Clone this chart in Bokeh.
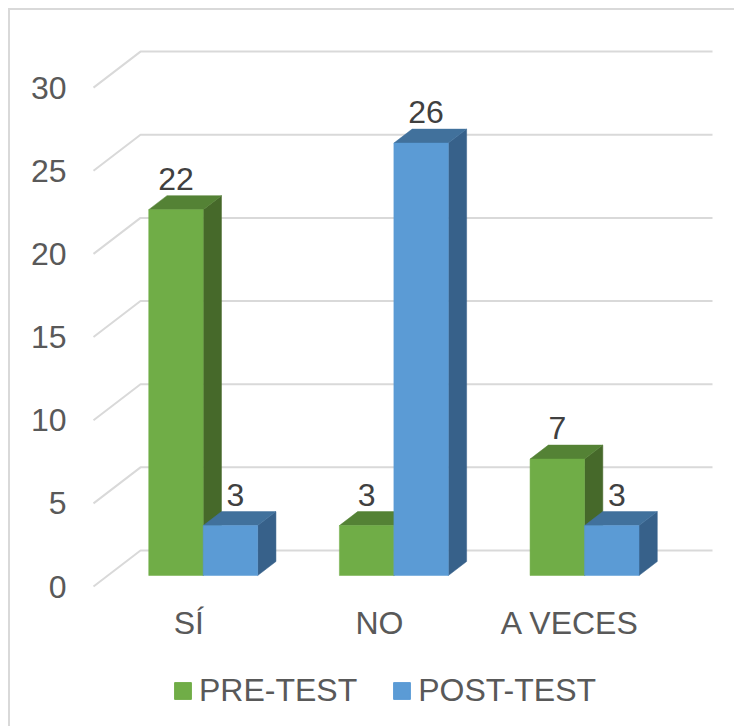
from bokeh.plotting import figure
from bokeh.layouts import column
from bokeh.models import FixedTicker, Legend, LegendItem, Range1d
from bokeh.core.properties import value
from bokeh.embed import file_html
from bokeh.resources import INLINE

# ---------------- data ----------------
categories = ["SÍ", "NO", "A VECES"]
series_names = ["PRE-TEST", "POST-TEST"]
pre_test = [22, 3, 7]
post_test = [3, 26, 3]
y_ticks = [0, 5, 10, 15, 20, 25, 30]

# ---------------- style ----------------
FONT = "Liberation Sans"
FS = "32px"
front_colors = ["#70AD47", "#5B9BD5"]
top_colors = ["#548235", "#41719C"]
side_colors = ["#46692A", "#37618A"]
grid_color = "#D9D9D9"

# ---------------- pixel layout (oblique 3D projection) ----------------
OX, OY = 10, 10           # page position of canvas origin
W, H1, H2 = 724, 640, 76
PX_SLOT = 190.67          # px per category slot
PX_UNIT = 16.63           # px per value unit
DEPTH_PX_X, DEPTH_PX_Y = 47.0, 36.0   # full floor depth projection
DX = DEPTH_PX_X / PX_SLOT
DY = DEPTH_PX_Y / PX_UNIT
FRONT_X0 = 93 - OX        # canvas px of front-plane slot 0 start
FRONT_Y0 = 586 - OY       # canvas px of front-plane value 0
F_L, F_R, F_T, F_B = 80 - OX, 720 - OX, 30 - OY, 592 - OY   # frame edges (canvas px)

x_start = (F_L - FRONT_X0) / PX_SLOT
x_end = (F_R - FRONT_X0) / PX_SLOT
y_start = (FRONT_Y0 - F_B) / PX_UNIT
y_end = (FRONT_Y0 - F_T) / PX_UNIT

p = figure(width=W, height=H1, output_backend="svg", toolbar_location=None,
           x_range=Range1d(x_start, x_end), y_range=Range1d(y_start, y_end),
           min_border_left=F_L, min_border_right=W - F_R,
           min_border_top=F_T, min_border_bottom=H1 - F_B)
p.outline_line_color = None
p.xgrid.visible = False
p.ygrid.visible = False
p.background_fill_color = "white"
p.border_fill_color = "white"


def proj(u, v, d):
    """u: slot coordinate, v: value, d: depth (0 front .. 1 back)"""
    return u + d * DX, v + d * DY

# ---------------- gridlines (back wall + left wall) ----------------
n = len(categories)
gx, gy = [], []
for t in y_ticks:
    a = proj(0, t, 0.0)
    b = proj(0, t, 1.0)
    c = proj(n, t, 1.0)
    gx.append([a[0], b[0], c[0]])
    gy.append([a[1], b[1], c[1]])
p.multi_line(gx, gy, line_color=grid_color, line_width=2)

# ---------------- bars ----------------
gap = 1.5
bw = 1.0 / (len(series_names) + gap)
d_f, d_b = 11.0 / 36.0, 25.0 / 36.0
label_xoff = [0, 5]
for s, vals in enumerate([pre_test, post_test]):
    fx, fy, tx, ty, sx, sy = [], [], [], [], [], []
    lx, ly, lt = [], [], []
    for c, v in enumerate(vals):
        u0 = c + gap * bw / 2 + s * bw
        u1 = u0 + bw
        pts = [proj(u0, 0, d_f), proj(u1, 0, d_f), proj(u1, v, d_f), proj(u0, v, d_f)]
        fx.append([q[0] for q in pts]); fy.append([q[1] for q in pts])
        pts = [proj(u0, v, d_f), proj(u1, v, d_f), proj(u1, v, d_b), proj(u0, v, d_b)]
        tx.append([q[0] for q in pts]); ty.append([q[1] for q in pts])
        pts = [proj(u1, 0, d_f), proj(u1, 0, d_b), proj(u1, v, d_b), proj(u1, v, d_f)]
        sx.append([q[0] for q in pts]); sy.append([q[1] for q in pts])
        cx, cy = proj((u0 + u1) / 2, v, d_f)
        lx.append(cx + label_xoff[s] / PX_SLOT); ly.append(cy); lt.append(str(v))
    p.patches(sx, sy, fill_color=side_colors[s], line_color=side_colors[s], line_width=0.5)
    p.patches(tx, ty, fill_color=top_colors[s], line_color=top_colors[s], line_width=0.5)
    p.patches(fx, fy, fill_color=front_colors[s], line_color=front_colors[s], line_width=0.5)
    p.text(lx, ly, text=lt, text_align="center", text_baseline="alphabetic", y_offset=-31,
           text_font=value(FONT), text_font_size=FS, text_color="#404040")

# ---------------- axes ----------------
p.yaxis.ticker = FixedTicker(ticks=y_ticks)
p.yaxis.axis_line_color = None
p.yaxis.major_tick_line_color = None
p.yaxis.minor_tick_line_color = None
p.yaxis.major_tick_out = 0
p.yaxis.major_label_standoff = 14
p.yaxis.major_label_text_font = FONT
p.yaxis.major_label_text_font_size = FS
p.yaxis.major_label_text_color = "#595959"

p.xaxis.ticker = FixedTicker(ticks=[i + 0.5 for i in range(n)])
p.xaxis.major_label_overrides = {i + 0.5: cat for i, cat in enumerate(categories)}
p.xaxis.axis_line_color = None
p.xaxis.major_tick_line_color = None
p.xaxis.minor_tick_line_color = None
p.xaxis.major_tick_out = 0
p.xaxis.major_label_standoff = 12
p.xaxis.major_label_text_font = FONT
p.xaxis.major_label_text_font_size = FS
p.xaxis.major_label_text_color = "#595959"

# ---------------- legend strip (frame aligned with the chart frame) ----------------
pl = figure(width=W, height=H2, output_backend="svg", toolbar_location=None,
            x_axis_type=None, y_axis_type=None, x_range=Range1d(0, 1), y_range=Range1d(0, 1),
            min_border=0, min_border_left=0, min_border_right=0,
            min_border_top=0, min_border_bottom=0, outline_line_color=None)
pl.xgrid.visible = False
pl.ygrid.visible = False
legend_items = []
for s, name in enumerate(series_names):
    r = pl.patches(xs=[[]], ys=[[]], fill_color=front_colors[s], line_color=front_colors[s])
    legend_items.append(LegendItem(label=name, renderers=[r]))
legend = Legend(items=legend_items, orientation="horizontal", location=(172 - 80, 17),
                glyph_width=21, glyph_height=21, label_standoff=6, spacing=34,
                label_text_font=FONT, label_text_font_size=FS, label_text_color="#595959",
                border_line_color=None, background_fill_alpha=0, margin=0, padding=0)
pl.add_layout(legend, "center")

layout = column(p, pl, spacing=0)
layout.styles = {"margin-left": "8px", "margin-top": "8px",
                 "border-left": "2px solid #D9D9D9", "border-top": "2px solid #D9D9D9"}

open("out.html", "w").write(file_html(layout, INLINE))
